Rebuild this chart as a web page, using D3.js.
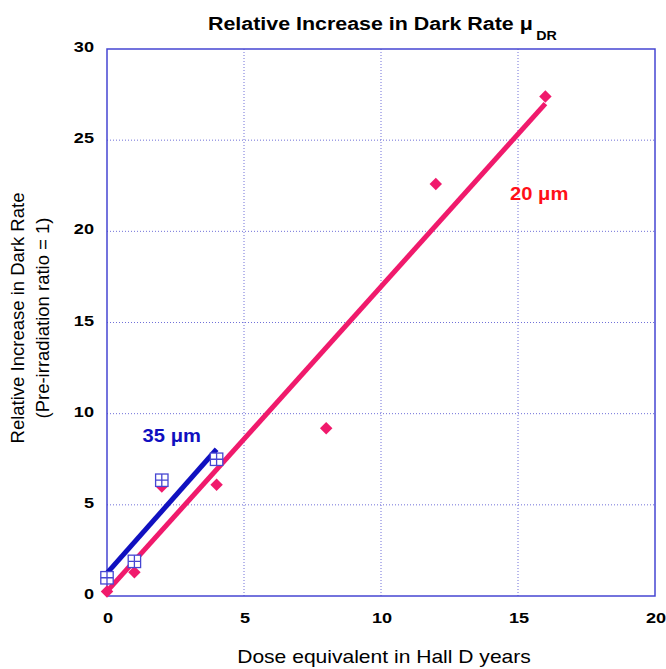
<!DOCTYPE html>
<html>
<head>
<meta charset="utf-8">
<script src="https://cdn.jsdelivr.net/npm/d3@7"></script>
<style>
  body { margin: 0; background: #fff; }
  text { font-family: "Liberation Sans", Arial, Helvetica, sans-serif; }
</style>
</head>
<body>
<svg id="chart"></svg>
<script>
// data
const dose20 = [0, 1, 2, 4, 8, 12, 16];
const rate20 = [0.25, 1.3, 6.0, 6.1, 9.2, 22.6, 27.4];
const dose35 = [0, 1, 2, 4];
const rate35 = [1.0, 1.9, 6.35, 7.5];
const fit20 = [[0, 0.25], [16, 27.0]];
const fit35 = [[0, 1.25], [4, 8.05]];
const xTicks = [0, 5, 10, 15, 20];
const yTicks = [0, 5, 10, 15, 20, 25, 30];

const width = 666, height = 669;
const margin = { top: 49, right: 11, bottom: 73, left: 107 };

const pink = "#f01a6c";
const blue = "#1010c0";
const frameBlue = "#4646d2";
const stretch = 1.17; // the original type is a bit wide

const svg = d3.select("#chart").attr("width", width).attr("height", height);

const x = d3.scaleLinear().domain([0, 20]).range([margin.left, width - margin.right]);
const y = d3.scaleLinear().domain([0, 30]).range([height - margin.bottom, margin.top]);

// grid
svg.append("g").selectAll("line")
    .data(xTicks.slice(1, -1))
    .enter().append("line")
    .attr("x1", d => x(d)).attr("x2", d => x(d))
    .attr("y1", y(30)).attr("y2", y(0))
    .style("stroke", "#7070d8").style("stroke-width", 1)
    .style("stroke-dasharray", "1,2");

svg.append("g").selectAll("line")
    .data(yTicks.slice(1, -1))
    .enter().append("line")
    .attr("x1", x(0)).attr("x2", x(20))
    .attr("y1", d => y(d)).attr("y2", d => y(d))
    .style("stroke", "#7070d8").style("stroke-width", 1)
    .style("stroke-dasharray", "1,2");

// frame
svg.append("rect")
    .attr("x", x(0)).attr("y", y(30))
    .attr("width", x(20) - x(0)).attr("height", y(0) - y(30))
    .style("fill", "none").style("stroke", frameBlue).style("stroke-width", 1.5);

// tick labels
svg.append("g").selectAll("text")
    .data(xTicks)
    .enter().append("text")
    .attr("transform", d => `translate(${x(d) + 1},${y(0) + 27}) scale(${stretch},1)`)
    .attr("text-anchor", "middle")
    .style("font-size", "15.5px").style("font-weight", "bold")
    .text(d => d);

svg.append("g").selectAll("text")
    .data(yTicks)
    .enter().append("text")
    .attr("transform", d => `translate(${x(0) - 13},${y(d) + 3}) scale(${stretch},1)`)
    .attr("text-anchor", "end")
    .style("font-size", "15.5px").style("font-weight", "bold")
    .text(d => d);

// title
const title = svg.append("text")
    .attr("transform", `translate(208,30) scale(1.19,1)`)
    .style("font-size", "18px").style("font-weight", "bold");
title.append("tspan").text("Relative Increase in Dark Rate μ");
title.append("tspan").attr("dx", 3).attr("dy", 10).style("font-size", "12px").text("DR");

// axis titles
svg.append("text")
    .attr("transform", `translate(384,663) scale(${stretch},1)`)
    .attr("text-anchor", "middle")
    .style("font-size", "18px")
    .text("Dose equivalent in Hall D years");

const yl = svg.append("text")
    .attr("transform", `translate(24,318) rotate(-90)`)
    .attr("text-anchor", "middle")
    .style("font-size", "18.5px");
yl.append("tspan").attr("x", 0).attr("y", 0).text("Relative Increase in Dark Rate");
yl.append("tspan").attr("x", 0).attr("y", 24.5).text("(Pre-irradiation ratio = 1)");

// fit lines
const line = d3.line().x(d => x(d[0])).y(d => y(d[1]));

svg.append("path").datum(fit20).attr("d", line)
    .style("fill", "none").style("stroke", pink).style("stroke-width", 5);
svg.append("path").datum(fit35).attr("d", line)
    .style("fill", "none").style("stroke", blue).style("stroke-width", 5);

// 20 um diamonds
svg.append("g").selectAll("path")
    .data(dose20.map((d, i) => [d, rate20[i]]))
    .enter().append("path")
    .attr("transform", d => `translate(${x(d[0])},${y(d[1])}) rotate(45)`)
    .attr("d", "M-4.4,-4.4H4.4V4.4H-4.4Z")
    .style("fill", pink);

// 35 um squares with cross
const sq = svg.append("g").selectAll("g")
    .data(dose35.map((d, i) => [d, rate35[i]]))
    .enter().append("g")
    .attr("transform", d => `translate(${x(d[0])},${y(d[1])})`);
sq.append("rect")
    .attr("x", -6.2).attr("y", -6.2).attr("width", 12.4).attr("height", 12.4)
    .style("fill", "white").style("stroke", frameBlue).style("stroke-width", 1.3);
sq.append("path")
    .attr("d", "M0,-6.2V6.2M-6.2,0H6.2")
    .style("stroke", frameBlue).style("stroke-width", 1.3);

// series labels
svg.append("text")
    .attr("transform", `translate(${x(14.71)},${y(21.72)}) scale(1.12,1)`)
    .style("font-size", "18px").style("font-weight", "bold")
    .style("fill", "#ff1018")
    .text("20 μm");
svg.append("text")
    .attr("transform", `translate(${x(1.3)},${y(8.46)}) scale(1.12,1)`)
    .style("font-size", "18px").style("font-weight", "bold")
    .style("fill", blue)
    .text("35 μm");
</script>
</body>
</html>
